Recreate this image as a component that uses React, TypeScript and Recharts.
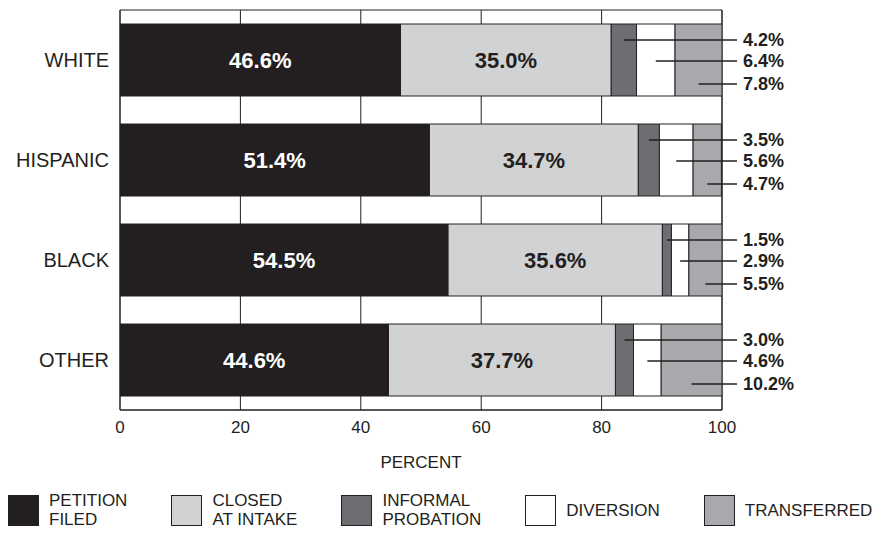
import { BarChart, Bar, XAxis, YAxis, CartesianGrid, LabelList, ReferenceArea } from 'recharts';

const categories = ['WHITE', 'HISPANIC', 'BLACK', 'OTHER'];
const petitionFiled = [46.6, 51.4, 54.5, 44.6];
const closedAtIntake = [35.0, 34.7, 35.6, 37.7];
const informalProbation = [4.2, 3.5, 1.5, 3.0];
const diversion = [6.4, 5.6, 2.9, 4.6];
const transferred = [7.8, 4.7, 5.5, 10.2];
const xTicks = [0, 20, 40, 60, 80, 100];

const INK = '#231f20';
const FONT = '"Liberation Sans", Arial, sans-serif';

const data = categories.map((name, i) => ({
  name,
  petition: petitionFiled[i],
  closed: closedAtIntake[i],
  informal: informalProbation[i],
  diversion: diversion[i],
  transferred: transferred[i],
}));

const series = [
  { key: 'petition', label: ['PETITION', 'FILED'], fill: INK },
  { key: 'closed', label: ['CLOSED', 'AT INTAKE'], fill: '#d1d2d4' },
  { key: 'informal', label: ['INFORMAL', 'PROBATION'], fill: '#6d6e71' },
  { key: 'diversion', label: ['DIVERSION'], fill: '#ffffff' },
  { key: 'transferred', label: ['TRANSFERRED'], fill: '#a7a9ac' },
];

const pct = (v: any) => `${Number(v).toFixed(1)}%`;

// leader line from the segment to a label right of the plot
const makeCallout = (dy: number) => (props: any) => {
  const { x, y, width, height, value } = props;
  const cy = y + height / 2 + dy;
  const x0 = x + width / 2;
  return (
    <g>
      <line x1={x0} y1={cy} x2={737} y2={cy} stroke={INK} strokeWidth={1.5} />
      <text x={743} y={cy} dominantBaseline="central" fill={INK} fontSize={18} fontWeight="bold" fontFamily={FONT}>
        {pct(value)}
      </text>
    </g>
  );
};

function LegendRow() {
  return (
    <div style={{ position: 'absolute', left: 8, top: 491, display: 'flex', gap: 44, fontFamily: FONT, fontSize: 17, color: INK }}>
      {series.map((s) => (
        <div key={s.key} style={{ display: 'flex', alignItems: 'center' }}>
          <span style={{ width: 29, height: 29, background: s.fill, border: `1px solid ${INK}`, display: 'inline-block' }} />
          <div style={{ marginLeft: 10, lineHeight: '19px' }}>
            {s.label.map((l) => <div key={l}>{l}</div>)}
          </div>
        </div>
      ))}
    </div>
  );
}

export default function App() {
  return (
    <div style={{ position: 'fixed', left: 0, top: 0, width: 890, height: 533, background: '#fff' }}>
      <BarChart
        width={890}
        height={533}
        data={data}
        layout="vertical"
        barCategoryGap={14}
        margin={{ top: 10, right: 168, bottom: 93, left: 10 }}
      >
        <CartesianGrid horizontal={false} stroke={INK} strokeWidth={1} />
        <XAxis
          type="number"
          domain={[0, 100]}
          ticks={xTicks}
          allowDataOverflow
          tickLine={false}
          tickSize={0}
          tickMargin={11}
          axisLine={{ stroke: INK }}
          height={30}
          tick={{ fill: INK, fontSize: 17, fontFamily: FONT }}
          label={{ value: 'PERCENT', position: 'bottom', offset: 16, fill: INK, fontSize: 17, fontFamily: FONT }}
        />
        <YAxis
          type="category"
          dataKey="name"
          width={110}
          axisLine={false}
          tickLine={false}
          tickSize={0}
          tickMargin={11}
          tick={{ fill: INK, fontSize: 20, fontFamily: FONT }}
        />
        <ReferenceArea x1={0} x2={100} fill="none" stroke={INK} strokeWidth={1} ifOverflow="visible" />
        <Bar dataKey="petition" stackId="a" fill={series[0].fill} stroke={INK} strokeWidth={1} isAnimationActive={false}>
          <LabelList dataKey="petition" position="center" formatter={pct} fill="#fff" fontSize={22} fontWeight="bold" fontFamily={FONT} />
        </Bar>
        <Bar dataKey="closed" stackId="a" fill={series[1].fill} stroke={INK} strokeWidth={1} isAnimationActive={false}>
          <LabelList dataKey="closed" position="center" formatter={pct} fill={INK} fontSize={22} fontWeight="bold" fontFamily={FONT} />
        </Bar>
        <Bar dataKey="informal" stackId="a" fill={series[2].fill} stroke={INK} strokeWidth={1} isAnimationActive={false}>
          <LabelList dataKey="informal" content={makeCallout(-20)} />
        </Bar>
        <Bar dataKey="diversion" stackId="a" fill={series[3].fill} stroke={INK} strokeWidth={1} isAnimationActive={false}>
          <LabelList dataKey="diversion" content={makeCallout(1)} />
        </Bar>
        <Bar dataKey="transferred" stackId="a" fill={series[4].fill} stroke={INK} strokeWidth={1} isAnimationActive={false}>
          <LabelList dataKey="transferred" content={makeCallout(24)} />
        </Bar>
      </BarChart>
      <LegendRow />
    </div>
  );
}
